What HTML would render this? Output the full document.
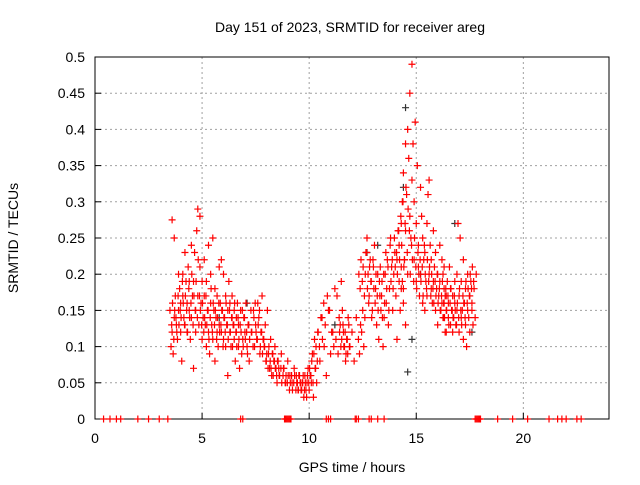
<!DOCTYPE html>
<html><head><meta charset="utf-8"><style>
body{margin:0;background:#fff;font-family:"Liberation Sans",sans-serif}
svg text{font-family:"Liberation Sans",sans-serif;font-size:14px;fill:#000}
</style></head><body>
<svg id="chart" width="640" height="480">
<text x="350" y="32" text-anchor="middle">Day 151 of 2023, SRMTID for receiver areg</text>
<g id="grid"></g><g id="axes"></g><g id="marks"></g>
<text x="352" y="472" text-anchor="middle">GPS time / hours</text>
<text transform="translate(18,238) rotate(-90)" text-anchor="middle">SRMTID / TECUs</text>
</svg>
<script>
const xTicks=[0,5,10,15,20];
const yTicks=[0,0.05,0.1,0.15,0.2,0.25,0.3,0.35,0.4,0.45,0.5];
const yTickLabels=["0","0.05","0.1","0.15","0.2","0.25","0.3","0.35","0.4","0.45","0.5"];
const zeroHours=[0.4,0.7,1.0,1.2,2.0,2.5,3.0,3.4,6.8,6.9,8.85,8.9,8.95,9.0,9.05,9.1,9.15,10.8,10.9,11.0,12.15,12.2,12.3,12.8,12.9,13.2,13.5,17.75,17.8,17.85,17.9,17.95,18.0,18.8,19.5,20.2,21.2,21.6,21.8,22.0,22.5,22.7];
const redHours=[3.5,3.55,3.6,3.6,3.65,3.7,3.7,3.75,3.8,3.85,3.9,3.9,3.95,4.0,4.0,4.05,4.1,4.1,4.15,4.2,4.2,4.25,4.3,4.3,4.35,4.4,4.4,4.45,4.5,4.5,4.55,4.6,4.6,4.65,4.7,4.7,4.75,4.8,4.8,4.85,4.9,4.9,4.95,5.0,5.0,5.05,5.1,5.1,5.15,5.2,5.2,5.25,5.3,5.3,5.35,5.4,5.4,5.45,5.5,5.5,5.55,5.6,5.6,5.65,5.7,5.7,5.75,5.8,5.8,5.85,5.9,5.9,5.95,6.0,6.0,6.05,6.1,6.1,6.15,6.2,6.2,6.25,6.3,6.3,6.35,6.4,6.4,6.45,6.5,6.5,6.55,6.6,6.6,6.65,6.7,6.7,6.75,6.8,6.85,6.9,6.95,7.0,7.05,7.1,7.15,7.2,7.3,7.4,7.45,7.5,7.55,7.6,7.65,7.7,7.75,7.8,7.85,7.9,7.95,8.0,8.05,8.1,8.15,8.2,8.25,8.3,8.35,8.4,8.45,8.5,8.55,8.6,8.7,8.8,8.9,9.0,9.1,9.2,9.3,9.4,9.45,9.5,9.55,9.6,9.65,9.7,9.75,9.8,9.85,9.9,9.95,10.0,10.05,10.1,10.15,10.2,10.25,10.3,10.35,10.4,10.5,10.6,10.7,10.8,10.9,11.0,11.1,11.2,11.3,11.4,11.45,11.5,11.55,11.6,11.65,11.7,11.75,11.8,11.85,11.9,12.0,12.1,12.2,12.3,12.35,12.4,12.45,12.5,12.55,12.6,12.65,12.7,12.75,12.8,12.85,12.9,12.95,13.0,13.05,13.1,13.15,13.2,13.25,13.3,13.35,13.4,13.45,13.5,13.55,13.6,13.65,13.7,13.75,13.8,13.85,13.9,13.95,14.0,14.05,14.1,14.1,14.15,14.2,14.2,14.25,14.3,14.3,14.35,14.4,14.4,14.45,14.5,14.5,14.55,14.6,14.6,14.65,14.7,14.7,14.75,14.8,14.8,14.85,14.9,14.9,14.95,15.0,15.0,15.05,15.1,15.1,15.15,15.2,15.2,15.25,15.3,15.3,15.35,15.4,15.4,15.45,15.5,15.5,15.55,15.6,15.6,15.65,15.7,15.7,15.75,15.8,15.8,15.85,15.9,15.9,15.95,16.0,16.0,16.05,16.1,16.1,16.15,16.2,16.2,16.25,16.3,16.3,16.35,16.4,16.4,16.45,16.5,16.5,16.55,16.6,16.6,16.65,16.7,16.7,16.75,16.8,16.8,16.85,16.9,16.9,16.95,17.0,17.0,17.05,17.1,17.1,17.15,17.2,17.2,17.25,17.3,17.3,17.35,17.4,17.4,17.45,17.5,17.5,17.55,17.6,17.6,17.65,17.7,17.75,17.8,16.3,16.35,16.4,16.3,16.25,14.35,14.4,14.45,14.5,14.3];
const redValues=[0.15,0.1,0.275,0.12,0.09,0.14,0.25,0.17,0.13,0.11,0.15,0.2,0.18,0.12,0.16,0.08,0.17,0.2,0.14,0.13,0.23,0.19,0.12,0.16,0.21,0.15,0.19,0.11,0.24,0.14,0.17,0.19,0.07,0.23,0.15,0.12,0.26,0.17,0.29,0.13,0.28,0.21,0.16,0.19,0.11,0.14,0.22,0.17,0.13,0.1,0.19,0.15,0.12,0.24,0.09,0.16,0.2,0.13,0.11,0.25,0.15,0.08,0.18,0.14,0.12,0.17,0.1,0.21,0.13,0.16,0.12,0.22,0.15,0.11,0.2,0.14,0.17,0.1,0.13,0.15,0.06,0.19,0.12,0.16,0.1,0.14,0.17,0.13,0.11,0.15,0.08,0.14,0.12,0.16,0.1,0.13,0.07,0.15,0.09,0.11,0.14,0.12,0.16,0.1,0.13,0.08,0.12,0.15,0.1,0.13,0.11,0.16,0.14,0.09,0.12,0.17,0.11,0.1,0.13,0.08,0.15,0.09,0.07,0.11,0.06,0.09,0.08,0.1,0.07,0.05,0.08,0.06,0.09,0.07,0.05,0.08,0.06,0.05,0.07,0.06,0.05,0.04,0.06,0.05,0.04,0.05,0.03,0.06,0.04,0.05,0.07,0.04,0.06,0.05,0.09,0.03,0.11,0.07,0.05,0.12,0.08,0.14,0.1,0.06,0.15,0.09,0.12,0.18,0.17,0.14,0.13,0.19,0.15,0.12,0.1,0.08,0.11,0.09,0.13,0.1,0.12,0.08,0.14,0.11,0.09,0.13,0.12,0.15,0.1,0.14,0.23,0.25,0.2,0.17,0.22,0.19,0.15,0.21,0.24,0.18,0.13,0.2,0.11,0.17,0.15,0.19,0.1,0.14,0.2,0.16,0.22,0.13,0.18,0.25,0.21,0.15,0.2,0.23,0.17,0.11,0.22,0.26,0.19,0.24,0.15,0.21,0.27,0.3,0.18,0.34,0.22,0.38,0.26,0.31,0.4,0.2,0.36,0.28,0.45,0.25,0.49,0.33,0.38,0.22,0.3,0.41,0.27,0.19,0.35,0.24,0.21,0.17,0.32,0.2,0.28,0.16,0.25,0.22,0.15,0.23,0.19,0.27,0.17,0.31,0.2,0.33,0.24,0.18,0.22,0.16,0.26,0.19,0.21,0.15,0.23,0.18,0.2,0.13,0.17,0.24,0.19,0.15,0.22,0.16,0.2,0.14,0.18,0.17,0.12,0.15,0.19,0.14,0.16,0.21,0.13,0.18,0.15,0.17,0.12,0.14,0.19,0.16,0.13,0.2,0.15,0.27,0.17,0.12,0.25,0.14,0.19,0.15,0.11,0.22,0.16,0.13,0.18,0.1,0.15,0.2,0.14,0.17,0.12,0.19,0.15,0.16,0.13,0.18,0.14,0.2,0.16,0.12,0.17,0.21,0.14,0.19,0.16,0.22,0.13,0.18,0.15,0.12,0.44,0.43,0.38,0.33,0.28,0.47,0.4,0.42,0.37,0.45];
const extraHours=[3.58,3.62,3.68,3.72,3.78,3.82,3.88,3.92,3.98,4.02,4.08,4.12,4.18,4.22,4.28,4.32,4.38,4.42,4.48,4.52,4.58,4.62,4.68,4.72,4.78,4.82,4.88,4.92,4.98,5.02,5.08,5.12,5.18,5.22,5.28,5.32,5.38,5.42,5.48,5.52,5.58,5.62,5.68,5.72,5.78,5.82,5.88,5.92,5.98,6.02,6.08,6.12,6.18,6.22,6.28,6.32,6.38,6.42,6.48,6.52,6.58,6.62,6.68,6.72,6.78,6.82,6.88,6.92,6.98,7.02,7.08,7.12,7.18,7.22,7.28,7.32,7.38,7.42,7.48,7.52,7.58,7.62,7.68,7.72,7.78,7.82,7.88,7.92,7.98,8.02,8.08,8.12,8.18,8.22,8.28,8.32,8.38,8.42,8.48,8.52,8.58,8.62,8.68,8.72,8.78,8.82,8.88,8.92,8.98,9.02,9.08,9.12,9.18,9.22,9.28,9.32,9.38,9.42,9.48,9.52,9.58,9.62,9.68,9.72,9.78,9.82,9.88,9.92,9.98,10.02,10.08,10.12,10.18,10.22,10.28,10.32,10.38,10.42,10.48,10.55,10.62,10.68,10.75,10.85,10.95,11.05,11.15,11.25,11.35,11.42,11.48,11.52,11.58,11.62,11.68,11.72,11.78,11.82,11.88,12.32,12.38,12.42,12.48,12.52,12.58,12.62,12.68,12.72,12.78,12.82,12.88,12.92,12.98,13.02,13.08,13.12,13.18,13.22,13.28,13.32,13.38,13.42,13.48,13.52,13.58,13.62,13.68,13.72,13.78,13.82,13.88,13.92,13.98,14.02,14.08,14.12,14.18,14.22,14.28,14.32,14.38,14.42,14.48,14.52,14.58,14.62,14.68,14.72,14.78,14.82,14.88,14.92,14.98,15.02,15.08,15.12,15.18,15.22,15.28,15.32,15.38,15.42,15.48,15.52,15.58,15.62,15.68,15.72,15.78,15.82,15.88,15.92,15.98,16.02,16.08,16.12,16.18,16.22,16.28,16.32,16.38,16.42,16.48,16.52,16.58,16.62,16.68,16.72,16.78,16.82,16.88,16.92,16.98,17.02,17.08,17.12,17.18,17.22,17.28,17.32,17.38,17.42,17.48,17.52,17.58,17.62,17.68,17.72];
const extraValues=[0.13,0.16,0.11,0.15,0.14,0.12,0.17,0.13,0.15,0.14,0.19,0.16,0.13,0.17,0.15,0.12,0.18,0.14,0.16,0.2,0.13,0.17,0.15,0.19,0.14,0.22,0.17,0.15,0.13,0.16,0.12,0.14,0.17,0.13,0.15,0.11,0.14,0.18,0.12,0.16,0.13,0.15,0.11,0.14,0.16,0.12,0.13,0.15,0.1,0.14,0.12,0.16,0.13,0.11,0.15,0.12,0.14,0.1,0.13,0.16,0.12,0.1,0.14,0.11,0.13,0.12,0.15,0.1,0.14,0.11,0.12,0.09,0.13,0.11,0.15,0.12,0.1,0.14,0.16,0.12,0.11,0.13,0.15,0.1,0.12,0.09,0.11,0.1,0.08,0.09,0.07,0.1,0.08,0.07,0.09,0.06,0.08,0.07,0.06,0.08,0.07,0.06,0.07,0.05,0.06,0.07,0.05,0.06,0.05,0.06,0.04,0.05,0.06,0.04,0.05,0.06,0.04,0.05,0.04,0.06,0.05,0.04,0.05,0.06,0.04,0.05,0.03,0.06,0.05,0.07,0.06,0.08,0.05,0.09,0.07,0.1,0.08,0.12,0.1,0.14,0.11,0.16,0.13,0.17,0.15,0.12,0.1,0.11,0.09,0.12,0.1,0.11,0.13,0.1,0.12,0.09,0.11,0.14,0.1,0.2,0.18,0.22,0.19,0.21,0.17,0.2,0.23,0.18,0.16,0.21,0.19,0.14,0.22,0.18,0.16,0.2,0.17,0.15,0.19,0.21,0.17,0.14,0.2,0.16,0.23,0.18,0.21,0.15,0.24,0.19,0.22,0.18,0.25,0.21,0.23,0.2,0.26,0.22,0.28,0.24,0.3,0.21,0.27,0.32,0.23,0.29,0.26,0.2,0.24,0.22,0.19,0.25,0.21,0.18,0.23,0.2,0.22,0.19,0.21,0.17,0.24,0.2,0.18,0.22,0.19,0.21,0.17,0.2,0.18,0.16,0.19,0.17,0.2,0.16,0.18,0.15,0.17,0.19,0.16,0.14,0.18,0.15,0.17,0.13,0.16,0.18,0.15,0.14,0.17,0.15,0.13,0.16,0.14,0.18,0.15,0.13,0.17,0.16,0.14,0.19,0.16,0.18,0.17,0.2,0.18,0.21,0.19];
const blackHours=[14.5,14.6,14.4,15.2,16.8,13.2,12.7,17.6,5.8,7.1,11.2,14.8];
const blackValues=[0.43,0.065,0.32,0.2,0.27,0.24,0.23,0.12,0.14,0.16,0.13,0.11];

const L=95,R=609,T=57,B=419;
const xs=h=>L+(R-L)*h/24, ys=v=>B-(B-T)*v/0.5;
const NS='http://www.w3.org/2000/svg';
function mk(tag,attrs,parent){const e=document.createElementNS(NS,tag);for(const k in attrs)e.setAttribute(k,attrs[k]);document.getElementById(parent).appendChild(e);return e;}
xTicks.forEach((t,i)=>{
  if(t>0){const g=mk('line',{x1:xs(t),x2:xs(t),y1:T,y2:B,stroke:'#a0a0a0','stroke-dasharray':'2,3'},'grid');
  
  }
  const tk=mk('line',{x1:xs(t),x2:xs(t),y1:B,y2:B-6,stroke:'#000'},'axes');
  
  
  const tx=mk('text',{x:xs(t),y:B+24,'text-anchor':'middle'},'axes');tx.textContent=t;
  
  
});
yTicks.forEach((t,i)=>{
  if(t>0&&t<0.5){const g=mk('line',{x1:L,x2:R,y1:ys(t),y2:ys(t),stroke:'#a0a0a0','stroke-dasharray':'2,3'},'grid');
  
  }
  const tk=mk('line',{x1:L,x2:L+6,y1:ys(t),y2:ys(t),stroke:'#000'},'axes');
  
  
  const tx=mk('text',{x:L-10,y:ys(t)+5,'text-anchor':'end'},'axes');tx.textContent=yTickLabels[i];
  
  
});
const fr=mk('rect',{x:L,y:T,width:R-L,height:B-T,fill:'none',stroke:'#000'},'axes');


function plus(h,v,c,name){
  const x=xs(h),y=ys(v);
  const p=mk('path',{d:`M${x-3.5},${y}H${x+3.5}M${x},${y-3.5}V${y+3.5}`,stroke:c,'stroke-width':1.2,fill:'none'},'marks');
  
  
}
blackHours.forEach((h,i)=>plus(h,blackValues[i],'#333','black-point'));
redHours.forEach((h,i)=>plus(h,redValues[i],'#ff0000','red-point'));
extraHours.forEach((h,i)=>plus(h,extraValues[i],'#ff0000','red-point'));
zeroHours.forEach(h=>plus(h,0,'#ff0000','zero-point'));
</script>
</body></html>
